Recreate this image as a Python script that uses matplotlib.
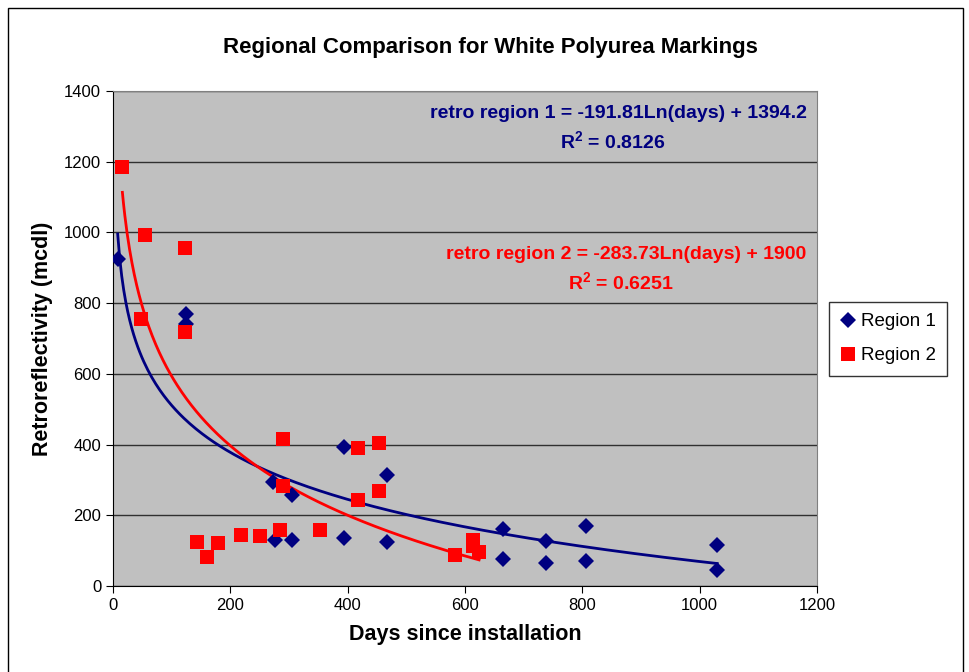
import numpy as np
import matplotlib
matplotlib.use('Agg')
import matplotlib.pyplot as plt
from matplotlib.patches import Rectangle

plt.rcParams['font.family'] = ['Liberation Sans', 'DejaVu Sans']
plt.rcParams['mathtext.fontset'] = 'custom'
plt.rcParams['mathtext.rm'] = 'Liberation Sans'
plt.rcParams['mathtext.bf'] = 'Liberation Sans:bold'

### Data
days_r1 = [8, 125, 125, 273, 276, 305, 305, 393, 393, 467, 467,
           664, 664, 738, 738, 807, 807, 1030, 1030]
retro_r1 = [925, 770, 742, 294, 129, 257, 131, 392, 136, 315, 124,
            162, 77, 126, 64, 170, 70, 117, 45]

days_r2 = [16, 47, 54, 123, 123, 144, 161, 179, 218, 250, 284, 290,
           290, 353, 418, 418, 453, 453, 583, 613, 613, 624]
retro_r2 = [1185, 756, 992, 955, 718, 124, 83, 121, 143, 141, 157, 415,
            284, 157, 389, 244, 405, 268, 89, 131, 114, 97]

# log trend fits as printed on the chart
fit_r1 = (-191.81, 1394.2, 0.8126)
fit_r2 = (-283.73, 1900, 0.6251)

navy = '#000080'
red = '#FF0000'

fig = plt.figure(figsize=(9.69, 6.72), dpi=100)
ax = fig.add_axes([113 / 969, 1 - 586 / 672, 704 / 969, 495 / 672])
ax.set_facecolor('#C0C0C0')

# trend lines over the range of each series
x1 = np.linspace(min(days_r1), max(days_r1), 300)
ax.plot(x1, fit_r1[0] * np.log(x1) + fit_r1[1], color=navy, lw=2, zorder=2)
x2 = np.linspace(min(days_r2), max(days_r2), 300)
ax.plot(x2, fit_r2[0] * np.log(x2) + fit_r2[1], color=red, lw=2, zorder=2)

ax.plot(days_r1, retro_r1, 'D', color=navy, ms=8, mew=0, ls='none',
        label='Region 1', zorder=3)
ax.plot(days_r2, retro_r2, 's', color=red, ms=10, mew=0, ls='none',
        label='Region 2', zorder=3)

ax.set_xlim(0, 1200)
ax.set_ylim(0, 1400)
ax.set_xticks(np.arange(0, 1201, 200))
ax.set_yticks(np.arange(0, 1401, 200))
ax.yaxis.grid(True, color='#303030', lw=1)
ax.set_axisbelow(True)
ax.tick_params(direction='out', length=5, labelsize=12, color='black')

for side in ['top', 'right']:
    ax.spines[side].set_color('#808080')
for side in ['left', 'bottom']:
    ax.spines[side].set_color('black')

ax.set_xlabel('Days since installation', fontsize=15.5, fontweight='bold', labelpad=8)
ax.set_ylabel('Retroreflectivity (mcdl)', fontsize=15.5, fontweight='bold', labelpad=8)
fig.text(490 / 969, 1 - 47 / 672, 'Regional Comparison for White Polyurea Markings',
         ha='center', va='center', fontsize=16, fontweight='bold')

# trendline equations (x positions in days, y in mcdl)
ax.text(1182, 1335, 'retro region 1 = %.2fLn(days) + %.1f' % (fit_r1[0], fit_r1[1]),
        ha='right', va='center', color=navy, fontsize=14, fontweight='bold')
ax.text(852, 1256, 'R$^\\mathbf{2}$ = %.4f' % fit_r1[2],
        ha='center', va='center', color=navy, fontsize=14, fontweight='bold')
ax.text(1182, 937, 'retro region 2 = %.2fLn(days) + %d' % (fit_r2[0], fit_r2[1]),
        ha='right', va='center', color=red, fontsize=14, fontweight='bold')
ax.text(865, 857, 'R$^\\mathbf{2}$ = %.4f' % fit_r2[2],
        ha='center', va='center', color=red, fontsize=14, fontweight='bold')

leg = fig.legend(loc='upper left', bbox_to_anchor=(829 / 969, 1 - 302 / 672),
                 fontsize=13.5, frameon=True, fancybox=False, edgecolor='black',
                 handlelength=0.8, handletextpad=0.3, borderpad=0.6,
                 labelspacing=0.9, borderaxespad=0)
leg.get_frame().set_linewidth(1)

# outer chart border
fig.patches.append(Rectangle((8 / 969, -0.05), 955 / 969, 1.05 - 8 / 672,
                             transform=fig.transFigure, fill=False,
                             edgecolor='black', lw=1))

fig.savefig('out.png', dpi=100)
